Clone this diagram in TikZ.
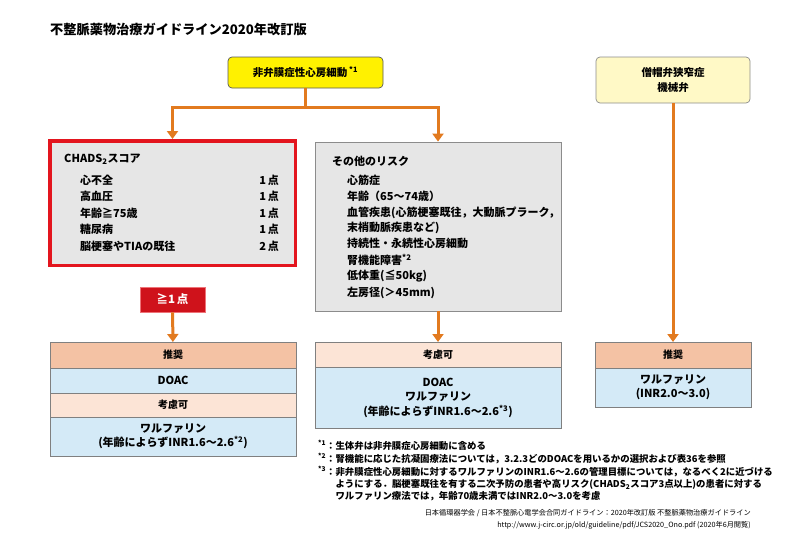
\documentclass[tikz,border=0pt]{standalone}
\usepackage{fontspec}
\setmainfont{Noto Sans CJK JP}
\usepackage{xcolor}
\usepackage{tikz}
\usetikzlibrary{arrows.meta}
\usetikzlibrary{positioning}
\definecolor{arrorange}{HTML}{E27A1F}
\definecolor{afyellow}{HTML}{FFF100}
\definecolor{valveyellow}{HTML}{FFF9C6}
\definecolor{chadsred}{HTML}{E3151E}
\definecolor{scorered}{HTML}{CF121B}
\definecolor{boxgray}{HTML}{E6E6E6}
\definecolor{recsalmon}{HTML}{F4C2A4}
\definecolor{conspeach}{HTML}{FCE4D6}
\definecolor{drugblue}{HTML}{D4EAF7}
\newcommand\sz[1]{\fontsize{#1}{#1}\selectfont}
\tikzstyle{flowline}=[line width=3pt,arrorange]
\tikzstyle{flow}=[flowline,-{Triangle[length=8pt,width=11pt]}]
\tikzstyle{item}=[font=\bfseries\sz{11},inner sep=0pt]
\tikzstyle{startbox}=[draw=black!65,line width=.7pt,rounded corners=4pt,align=center,font=\bfseries\fontsize{10.5}{15}\selectfont]
\tikzstyle{row}=[draw=black!50,line width=.7pt,outer sep=0pt,inner sep=0pt,minimum width=246pt,align=center,font=\bfseries\fontsize{11}{14.5}\selectfont]
\tikzstyle{recrow}=[row,fill=recsalmon,minimum height=26pt,font=\bfseries\sz{10}]
\tikzstyle{consrow}=[row,fill=conspeach,minimum height=25pt,font=\bfseries\sz{10}]
\tikzstyle{drugrow}=[row,fill=drugblue]
\begin{document}
\begin{tikzpicture}[x=1pt,y=-1pt]
	\useasboundingbox (0,0) rectangle (800,549);
	\node[anchor=west,inner sep=0pt,font=\bfseries\sz{13.2}] (title) at (50,29) {不整脈薬物治療ガイドライン2020年改訂版};
	\node[startbox,fill=afyellow,minimum width=155pt,minimum height=31pt] (af) at (305.5,72.5) {非弁膜症性心房細動\,\textsuperscript{*1}};
	\node[startbox,fill=valveyellow,draw=black!45,minimum width=154pt,minimum height=46pt] (valve) at (673,80) {僧帽弁狭窄症\\機械弁};
	\node[draw=chadsred,line width=3.5pt,fill=boxgray,minimum width=245.5pt,minimum height=124.5pt] (chads) at (172.5,203) {};
	\node[item,anchor=west] (chadstitle) at (64,159) {CHADS\textsubscript{2}スコア};
	\node[item,anchor=west] (c1) at (80,180) {心不全};
	\node[item,anchor=west] (c2) at (80,196.5) {高血圧};
	\node[item,anchor=west] (c3) at (80,213) {年齢≧75歳};
	\node[item,anchor=west] (c4) at (80,229.5) {糖尿病};
	\node[item,anchor=west] (c5) at (80,246) {脳梗塞やTIAの既往};
	\node[item,anchor=east] (p1) at (279,180) {1\,点};
	\node[item,anchor=east] (p2) at (279,196.5) {1\,点};
	\node[item,anchor=east] (p3) at (279,213) {1\,点};
	\node[item,anchor=east] (p4) at (279,229.5) {1\,点};
	\node[item,anchor=east] (p5) at (279,246) {2\,点};
	\node[draw=black!45,line width=.8pt,fill=boxgray,minimum width=246pt,minimum height=169pt] (risk) at (438,226.5) {};
	\node[item,anchor=west] (risktitle) at (332,161) {その他のリスク};
	\node[item,anchor=west] (r1) at (347,180) {心筋症};
	\node[item,anchor=west] (r2) at (347,196.5) {年齢（65～74歳）};
	\node[item,anchor=west] (r3) at (347,213) {血管疾患(心筋梗塞既往，大動脈プラーク，};
	\node[item,anchor=west] (r4) at (347,227.5) {末梢動脈疾患など)};
	\node[item,anchor=west] (r5) at (347,243.5) {持続性・永続性心房細動};
	\node[item,anchor=west] (r6) at (347,260) {腎機能障害\textsuperscript{*2}};
	\node[item,anchor=west] (r7) at (347,276.5) {低体重(≦50kg)};
	\node[item,anchor=west] (r8) at (347,293) {左房径(＞45mm)};
	\node[fill=scorered,draw=chadsred!60!white,line width=.6pt,text=white,font=\bfseries\sz{11.5},minimum width=65pt,minimum height=25pt] (score) at (172.5,299.5) {≧1\,点};
	\node[recrow] (rec1) at (173,355) {推奨};
	\node[drugrow,minimum height=25pt,below=0pt of rec1] (doac1) {DOAC};
	\node[consrow,minimum height=24pt,below=0pt of doac1] (cons1) {考慮可};
	\node[drugrow,minimum height=39pt,below=0pt of cons1] (warf1) {ワルファリン\\(年齢によらずINR1.6～2.6\textsuperscript{*2})};
	\node[consrow] (cons2) at (438,354.5) {考慮可};
	\node[drugrow,minimum height=61pt,below=0pt of cons2] (drug2) {DOAC\\ワルファリン\\(年齢によらずINR1.6～2.6\textsuperscript{*3})};
	\node[recrow,minimum width=156pt] (rec3) at (673,355) {推奨};
	\node[drugrow,minimum width=156pt,minimum height=39pt,below=0pt of rec3] (warf3) {ワルファリン\\(INR2.0～3.0)};
	\coordinate (split) at (305.5,107);
	\draw[flowline] (af.south) -- (split);
	\draw[flow] (split) -| (chads.north);
	\draw[flow] (split) -| (risk.north);
	\draw[flow] (score) -- (rec1);
	\draw[flow] (risk) -- (cons2);
	\draw[flow] (valve) -- (rec3);
	\node[anchor=north west,inner sep=0pt,font=\bfseries\fontsize{9.4}{12.2}\selectfont] (notes) at (318,440) {\begin{tabular}{@{}l@{}l@{}}
	  \textsuperscript{*1}：&生体弁は非弁膜症心房細動に含める\\
	  \textsuperscript{*2}：&腎機能に応じた抗凝固療法については，3.2.3どのDOACを用いるかの選択および表36を参照\\
	  \textsuperscript{*3}：&非弁膜症性心房細動に対するワルファリンのINR1.6～2.6の管理目標については，なるべく2に近づける\\
	  &ようにする．脳梗塞既往を有する二次予防の患者や高リスク(CHADS\textsubscript{2}スコア3点以上)の患者に対する\\
	  &ワルファリン療法では，年齢70歳未満ではINR2.0～3.0を考慮
	\end{tabular}};
	\node[anchor=north east,inner sep=0pt,align=right,font=\fontsize{7.2}{12}\selectfont] (source) at (751,509) {日本循環器学会 / 日本不整脈心電学会合同ガイドライン：2020年改訂版 不整脈薬物治療ガイドライン\\http://www.j-circ.or.jp/old/guideline/pdf/JCS2020\_Ono.pdf (2020年6月閲覧)};
\end{tikzpicture}
\end{document}
